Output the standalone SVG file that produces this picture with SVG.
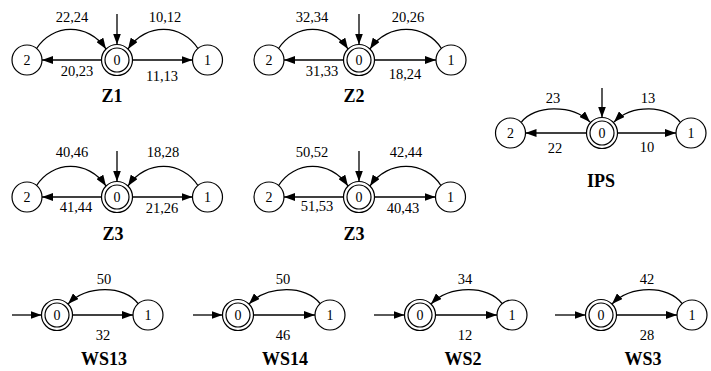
<svg xmlns="http://www.w3.org/2000/svg" width="711" height="371" viewBox="0 0 711 371" font-family="'Liberation Serif', 'Times New Roman', serif">
<style>
text{font-family:'Liberation Serif','Times New Roman',serif}
.st{fill:#fff;stroke:#000;stroke-width:1.2}
.nl{font-size:14px;text-anchor:middle;fill:#000}
.el{font-size:14.5px;text-anchor:middle;fill:#000}
.tl{font-size:18px;font-weight:bold;text-anchor:middle;fill:#000}
.e{fill:none;stroke:#000;stroke-width:1.3;marker-end:url(#ah)}
</style>
<defs>
<marker id="ah" markerWidth="11" markerHeight="8" refX="11" refY="4" orient="auto" markerUnits="userSpaceOnUse"><path d="M0,0 L11,4 L0,8 z" fill="#000"/></marker>
</defs>
<rect width="711" height="371" fill="#fff"/>
<g id="connectors">
<path class="e" d="M117,14 L117,44.5"/>
<path class="e" d="M36.6,48.5 C52,24 88,22 106,49"/>
<path class="e" d="M197.9,48.5 C182.5,24 146,22 128,49"/>
<path class="e" d="M101.5,60 L42,60"/>
<path class="e" d="M132.5,60 L192.5,60"/>
<path class="e" d="M359,14 L359,44.5"/>
<path class="e" d="M278.6,48.5 C294,24 330,22 348,49"/>
<path class="e" d="M441.4,48.5 C426,24 388,22 370,49"/>
<path class="e" d="M343.5,60 L284,60"/>
<path class="e" d="M374.5,60 L436,60"/>
<path class="e" d="M117,151 L117,181.5"/>
<path class="e" d="M36.6,185.5 C52,161 88,159 106,186"/>
<path class="e" d="M197.9,185.5 C182.5,161 146,159 128,186"/>
<path class="e" d="M101.5,197 L42,197"/>
<path class="e" d="M132.5,197 L192.5,197"/>
<path class="e" d="M359,151 L359,181.5"/>
<path class="e" d="M278.6,185.5 C294,161 330,159 348,186"/>
<path class="e" d="M440.9,185.5 C425.5,161 388,159 370,186"/>
<path class="e" d="M343.5,197 L284,197"/>
<path class="e" d="M374.5,197 L435.5,197"/>
<path class="e" d="M602,88 L602,117.5"/>
<path class="e" d="M521.5,122 C534,105 572,104 590,122"/>
<path class="e" d="M680,122 C667.5,105 632,104 614,122"/>
<path class="e" d="M586.5,133 L525.5,133"/>
<path class="e" d="M617.5,133 L676,133"/>
<path class="e" d="M12,315 L41.5,315"/>
<path class="e" d="M72.5,315 L133,315"/>
<path class="e" d="M138,303.5 C124,285 87,285 68,304"/>
<path class="e" d="M193,315 L222.5,315"/>
<path class="e" d="M253.5,315 L315,315"/>
<path class="e" d="M320,303.5 C306,285 268,285 249,304"/>
<path class="e" d="M374,315 L404.5,315"/>
<path class="e" d="M435.5,315 L497,315"/>
<path class="e" d="M502,303.5 C488,285 450,285 431,304"/>
<path class="e" d="M555,315 L585.5,315"/>
<path class="e" d="M616.5,315 L677,315"/>
<path class="e" d="M682,303.5 C668,285 631,285 612,304"/>
</g>
<g id="edge-labels">
<text class="el" x="72" y="22">22,24</text>
<text class="el" x="165" y="22">10,12</text>
<text class="el" x="77" y="76">20,23</text>
<text class="el" x="162" y="81">11,13</text>
<text class="el" x="312" y="22">32,34</text>
<text class="el" x="408" y="22">20,26</text>
<text class="el" x="322" y="76">31,33</text>
<text class="el" x="405" y="79">18,24</text>
<text class="el" x="72" y="157">40,46</text>
<text class="el" x="163" y="157">18,28</text>
<text class="el" x="76" y="212">41,44</text>
<text class="el" x="162" y="213">21,26</text>
<text class="el" x="312" y="157">50,52</text>
<text class="el" x="406" y="157">42,44</text>
<text class="el" x="317" y="211">51,53</text>
<text class="el" x="403" y="213">40,43</text>
<text class="el" x="553" y="103">23</text>
<text class="el" x="648" y="103">13</text>
<text class="el" x="555" y="153">22</text>
<text class="el" x="647" y="152">10</text>
<text class="el" x="104" y="284">50</text>
<text class="el" x="103" y="340">32</text>
<text class="el" x="283" y="284">50</text>
<text class="el" x="283" y="340">46</text>
<text class="el" x="465" y="284">34</text>
<text class="el" x="465" y="340">12</text>
<text class="el" x="647" y="284">42</text>
<text class="el" x="647" y="340">28</text>
</g>
<g id="z1-n2"><circle class="st" cx="27" cy="60" r="15"/><text class="nl" x="27" y="65">2</text></g>
<g id="z1-n0"><circle class="st" cx="117" cy="60" r="15.5"/><circle class="st" cx="117" cy="60" r="12"/><text class="nl" x="117" y="65">0</text></g>
<g id="z1-n1"><circle class="st" cx="207.5" cy="60" r="15"/><text class="nl" x="207.5" y="65">1</text></g>
<g id="z2-n2"><circle class="st" cx="269" cy="60" r="15"/><text class="nl" x="269" y="65">2</text></g>
<g id="z2-n0"><circle class="st" cx="359" cy="60" r="15.5"/><circle class="st" cx="359" cy="60" r="12"/><text class="nl" x="359" y="65">0</text></g>
<g id="z2-n1"><circle class="st" cx="451" cy="60" r="15"/><text class="nl" x="451" y="65">1</text></g>
<g id="z3a-n2"><circle class="st" cx="27" cy="197" r="15"/><text class="nl" x="27" y="202">2</text></g>
<g id="z3a-n0"><circle class="st" cx="117" cy="197" r="15.5"/><circle class="st" cx="117" cy="197" r="12"/><text class="nl" x="117" y="202">0</text></g>
<g id="z3a-n1"><circle class="st" cx="207.5" cy="197" r="15"/><text class="nl" x="207.5" y="202">1</text></g>
<g id="z3b-n2"><circle class="st" cx="269" cy="197" r="15"/><text class="nl" x="269" y="202">2</text></g>
<g id="z3b-n0"><circle class="st" cx="359" cy="197" r="15.5"/><circle class="st" cx="359" cy="197" r="12"/><text class="nl" x="359" y="202">0</text></g>
<g id="z3b-n1"><circle class="st" cx="450.5" cy="197" r="15"/><text class="nl" x="450.5" y="202">1</text></g>
<g id="ips-n2"><circle class="st" cx="510.5" cy="133" r="15"/><text class="nl" x="510.5" y="138">2</text></g>
<g id="ips-n0"><circle class="st" cx="602" cy="133" r="15.5"/><circle class="st" cx="602" cy="133" r="12"/><text class="nl" x="602" y="138">0</text></g>
<g id="ips-n1"><circle class="st" cx="691" cy="133" r="15"/><text class="nl" x="691" y="138">1</text></g>
<g id="ws13-n0"><circle class="st" cx="57" cy="315" r="15.5"/><circle class="st" cx="57" cy="315" r="12"/><text class="nl" x="57" y="320">0</text></g>
<g id="ws13-n1"><circle class="st" cx="148" cy="315" r="15"/><text class="nl" x="148" y="320">1</text></g>
<g id="ws14-n0"><circle class="st" cx="238" cy="315" r="15.5"/><circle class="st" cx="238" cy="315" r="12"/><text class="nl" x="238" y="320">0</text></g>
<g id="ws14-n1"><circle class="st" cx="330" cy="315" r="15"/><text class="nl" x="330" y="320">1</text></g>
<g id="ws2-n0"><circle class="st" cx="420" cy="315" r="15.5"/><circle class="st" cx="420" cy="315" r="12"/><text class="nl" x="420" y="320">0</text></g>
<g id="ws2-n1"><circle class="st" cx="512" cy="315" r="15"/><text class="nl" x="512" y="320">1</text></g>
<g id="ws3-n0"><circle class="st" cx="601" cy="315" r="15.5"/><circle class="st" cx="601" cy="315" r="12"/><text class="nl" x="601" y="320">0</text></g>
<g id="ws3-n1"><circle class="st" cx="692" cy="315" r="15"/><text class="nl" x="692" y="320">1</text></g>
<g id="titles">
<text class="tl" x="112" y="102">Z1</text>
<text class="tl" x="354" y="102">Z2</text>
<text class="tl" x="113" y="240">Z3</text>
<text class="tl" x="354" y="240">Z3</text>
<text class="tl" x="601" y="187">IPS</text>
<text class="tl" x="104" y="365">WS13</text>
<text class="tl" x="285" y="365">WS14</text>
<text class="tl" x="463" y="365">WS2</text>
<text class="tl" x="643" y="365">WS3</text>
</g>
</svg>
